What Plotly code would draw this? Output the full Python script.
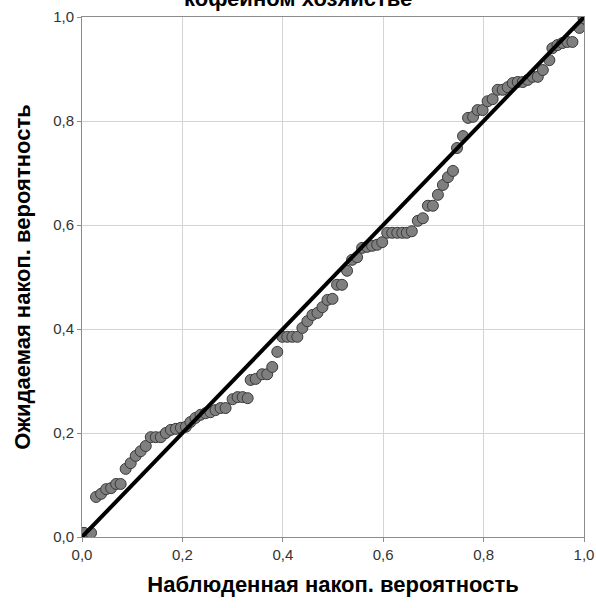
import plotly.graph_objects as go

observed = [0.004, 0.018, 0.028, 0.038, 0.048, 0.058, 0.068, 0.077, 0.087, 0.097,
            0.107, 0.117, 0.127, 0.137, 0.147, 0.157, 0.167, 0.177, 0.187, 0.197,
            0.207, 0.216, 0.226, 0.236, 0.246, 0.256, 0.266, 0.276, 0.286, 0.300,
            0.310, 0.320, 0.330, 0.336, 0.346, 0.359, 0.369, 0.379, 0.389, 0.399,
            0.409, 0.419, 0.429, 0.439, 0.449, 0.459, 0.469, 0.479, 0.489, 0.499,
            0.508, 0.518, 0.528, 0.538, 0.548, 0.558, 0.568, 0.578, 0.588, 0.598,
            0.608, 0.618, 0.628, 0.638, 0.647, 0.657, 0.669, 0.679, 0.689, 0.699,
            0.709, 0.719, 0.729, 0.739, 0.747, 0.759, 0.769, 0.779, 0.788, 0.798,
            0.808, 0.818, 0.828, 0.838, 0.848, 0.858, 0.868, 0.878, 0.888, 0.898,
            0.908, 0.918, 0.931, 0.937, 0.947, 0.957, 0.967, 0.977, 0.991, 0.999]
expected = [0.008, 0.008, 0.077, 0.083, 0.092, 0.094, 0.102, 0.102, 0.131, 0.142,
            0.156, 0.165, 0.175, 0.192, 0.192, 0.192, 0.200, 0.206, 0.208, 0.210,
            0.212, 0.221, 0.229, 0.235, 0.238, 0.240, 0.244, 0.248, 0.248, 0.265,
            0.269, 0.269, 0.267, 0.302, 0.304, 0.313, 0.313, 0.327, 0.356, 0.385,
            0.385, 0.385, 0.385, 0.402, 0.415, 0.427, 0.431, 0.442, 0.456, 0.458,
            0.485, 0.485, 0.512, 0.533, 0.538, 0.556, 0.558, 0.560, 0.562, 0.567,
            0.585, 0.585, 0.585, 0.585, 0.585, 0.588, 0.608, 0.613, 0.637, 0.637,
            0.658, 0.677, 0.692, 0.704, 0.748, 0.771, 0.806, 0.808, 0.821, 0.821,
            0.838, 0.842, 0.860, 0.860, 0.865, 0.873, 0.875, 0.875, 0.879, 0.885,
            0.885, 0.898, 0.917, 0.940, 0.946, 0.950, 0.952, 0.952, 0.979, 0.998]
ref_line = [0.0, 1.0]
tick_vals = [0.0, 0.2, 0.4, 0.6, 0.8, 1.0]

title_text = "кофейном хозяйстве"
x_title = "Наблюденная накоп. вероятность"
y_title = "Ожидаемая накоп. вероятность"

FONT = "Liberation Sans, Arial, sans-serif"

fig = go.Figure()
fig.add_trace(go.Scatter(
    x=observed, y=expected, mode="markers",
    marker=dict(size=11, color="#7f7f7f", line=dict(color="#3a3a3a", width=1)),
    showlegend=False, hoverinfo="x+y"))
fig.add_trace(go.Scatter(
    x=ref_line, y=ref_line, mode="lines",
    line=dict(color="black", width=4), showlegend=False))

axis_common = dict(
    range=[0, 1], tickvals=tick_vals, tickformat=".1f",
    showgrid=True, gridcolor="#d4d4d4", gridwidth=1,
    showline=True, linecolor="#8c8c8c", linewidth=1, mirror=True,
    ticks="outside", ticklen=4, tickcolor="#8c8c8c",
    zeroline=False, automargin=False,
    tickfont=dict(family=FONT, size=15, color="#333333"),
)

fig.update_layout(
    width=596, height=608,
    margin=dict(l=82, r=12, t=17, b=71, autoexpand=False),
    paper_bgcolor="white", plot_bgcolor="white",
    separators=", ",
    font=dict(family=FONT),
    xaxis=dict(axis_common, title=dict(text=x_title, standoff=14,
               font=dict(size=22, color="black", family=FONT, weight="bold"))),
    yaxis=dict(axis_common, title=dict(text=y_title, standoff=16,
               font=dict(size=22, color="black", family=FONT, weight="bold"))),
    annotations=[dict(
        text=title_text, xref="paper", yref="paper", x=0.43, y=1, yanchor="bottom",
        yshift=4, showarrow=False,
        font=dict(size=22, color="black", family=FONT, weight="bold"))],
)

fig.write_html(
    "out.html",
    config={"displayModeBar": False},
    post_script="document.body.style.margin='0';document.body.style.overflow='hidden';",
)
